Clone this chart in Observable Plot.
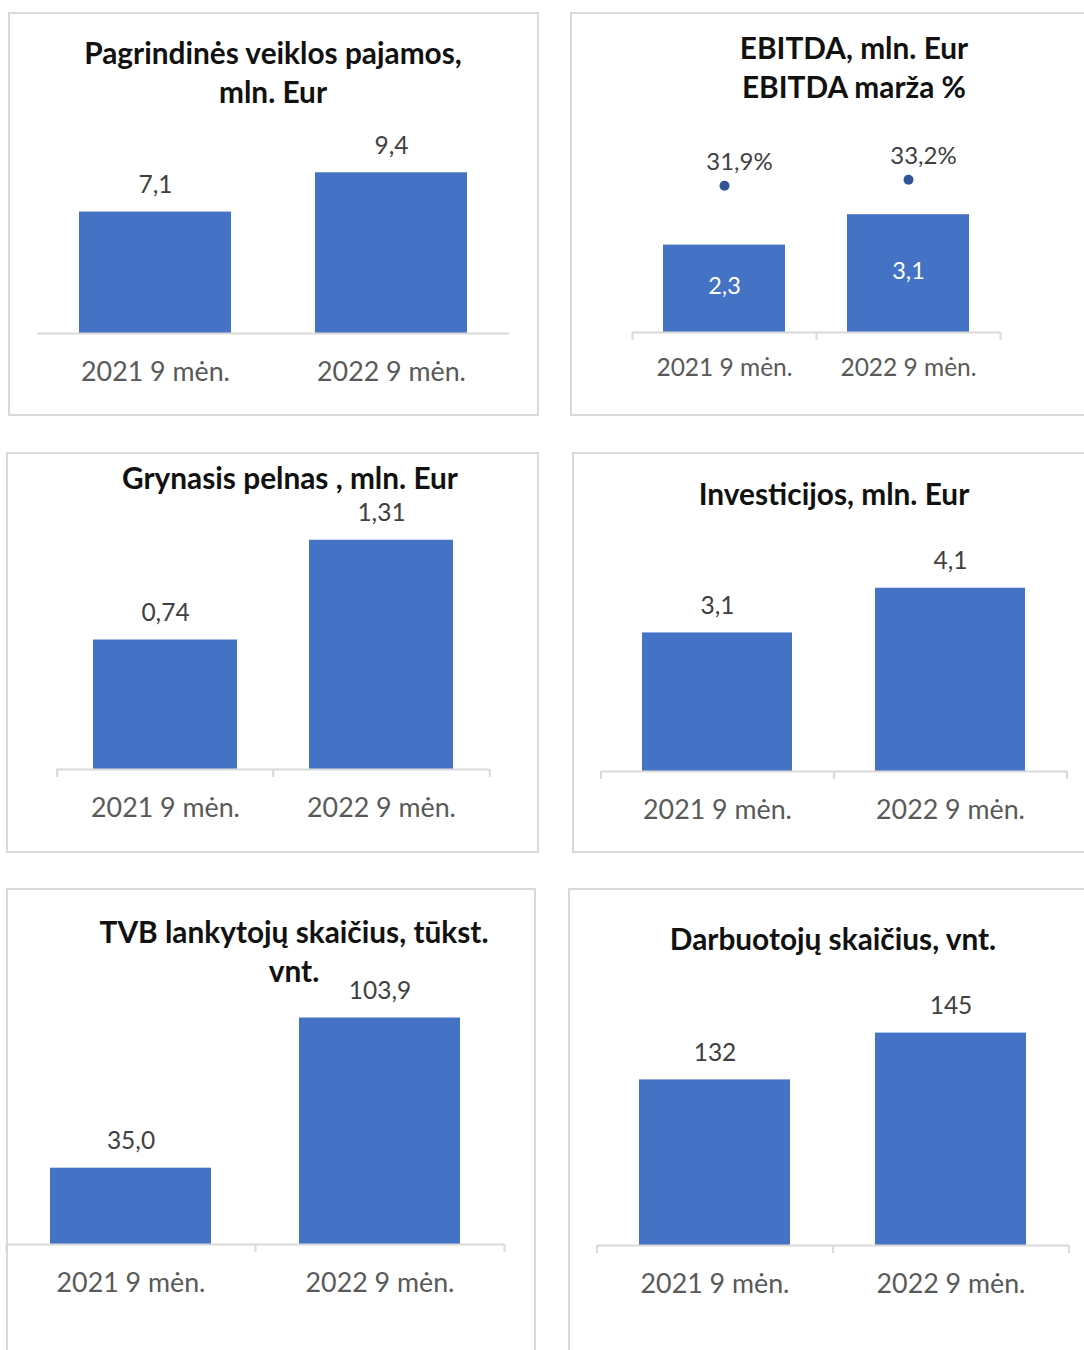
<!DOCTYPE html>
<html>
<head>
<meta charset="utf-8">
<script src="https://cdn.jsdelivr.net/npm/d3@7"></script>
<script src="https://cdn.jsdelivr.net/npm/@observablehq/plot@0.6"></script>
<style>
  html, body { margin: 0; padding: 0; background: #fff; }
  #root { position: relative; width: 1084px; height: 1350px; overflow: hidden; background: #fff; font-family: Lato, "Open Sans", sans-serif; }
  .box { position: absolute; box-sizing: border-box; border: 2px solid #d9d9d9; background: #fff; }
  .layer { position: absolute; }
  .title { position: absolute; transform: translate(-50%, -50%); white-space: nowrap; font-family: Lato, sans-serif; font-weight: 700; font-size: 29.8px; color: #111; }
</style>
</head>
<body>
<div id="root"></div>
<script>
// ---- data ----
const categories = ["2021 9 mėn.", "2022 9 mėn."];
const revenue = [7.1, 9.4];            // Pagrindinės veiklos pajamos, mln. Eur
const ebitda = [2.3, 3.1];             // EBITDA, mln. Eur
const ebitdaMargin = [31.9, 33.2];     // EBITDA marža %
const netProfit = [0.74, 1.31];        // Grynasis pelnas, mln. Eur
const investments = [3.1, 4.1];        // Investicijos, mln. Eur
const visitors = [35.0, 103.9];        // TVB lankytojų skaičius, tūkst. vnt.
const employees = [132, 145];          // Darbuotojų skaičius, vnt.
const employeesAxisMin = 86;           // value axis minimum of the employees chart

// ---- styles ----
const BAR = "#4472C4";
const DOT = "#2F5597";
const AXIS = "#d9d9d9";
const VALUE_COLOR = "#404040";
const CAT_COLOR = "#595959";

const fmt = d => v => v.toFixed(d).replace(".", ",");
const root = document.getElementById("root");

function addTitle(text, cx, cy) {
  const t = document.createElement("div");
  t.className = "title";
  t.textContent = text;
  t.style.left = cx + "px";
  t.style.top = cy + "px";
  root.appendChild(t);
}

function layer(svg, box) {
  svg.classList.add("layer");
  svg.style.left = box.l + "px";
  svg.style.top = box.t + "px";
  root.appendChild(svg);
}

function panel(cfg) {
  const {box, axis, k, yMin = 0, pad, ticks, values, format, titles,
         catSize = 26.8, catPad = 28, valSize = 24.5, inside = false} = cfg;
  const b = document.createElement("div");
  b.className = "box";
  Object.assign(b.style, {left: box.l + "px", top: box.t + "px", width: box.w + "px", height: box.h + "px"});
  root.appendChild(b);

  const data = categories.map((c, i) => ({cat: c, v: values[i]}));
  const mL = axis.x0 - box.l, mR = box.l + box.w - axis.x1, mB = box.t + box.h - axis.y;
  const yMax = yMin + (axis.y - box.t) / k;
  const step = (axis.x1 - axis.x0) / categories.length;
  const marks = [
    Plot.barY(data, {x: "cat", y1: yMin, y2: "v", fill: BAR}),
    Plot.ruleY([yMin], {stroke: AXIS, strokeWidth: 2})
  ];
  if (ticks) {
    marks.push(Plot.ruleX(categories, {x: d => d, dx: -step / 2, y1: yMin, y2: yMin, insetBottom: -8, stroke: AXIS, strokeWidth: 2}));
    marks.push(Plot.ruleX(categories.slice(-1), {x: d => d, dx: step / 2, y1: yMin, y2: yMin, insetBottom: -8, stroke: AXIS, strokeWidth: 2}));
  }
  if (inside) {
    marks.push(Plot.text(data, {x: "cat", y: d => d.v / 2, text: d => format(d.v), dy: -2, fill: "#fff", fontSize: valSize}));
  } else {
    marks.push(Plot.text(data, {x: "cat", y: "v", text: d => format(d.v), dy: -27, fill: VALUE_COLOR, fontSize: valSize}));
  }
  const svg = Plot.plot({
    width: box.w, height: box.h,
    marginLeft: mL, marginRight: mR, marginTop: 0, marginBottom: mB,
    style: {background: "transparent", fontFamily: "Lato, sans-serif", fontSize: catSize + "px", color: CAT_COLOR, overflow: "visible"},
    x: {domain: categories, paddingInner: pad, paddingOuter: pad / 2, tickSize: 0, tickPadding: catPad, label: null},
    y: {domain: [yMin, yMax], axis: null},
    marks
  });
  layer(svg, box);
  titles.forEach(t => addTitle(t.text, t.cx, t.cy));
  return {mL, mR, mB, pad};
}

// Panel 1
panel({
  box: {l: 8, t: 12, w: 531, h: 404}, axis: {x0: 37, x1: 509, y: 333},
  k: 17.1, pad: 0.356, ticks: false, values: revenue, format: fmt(1),
  titles: [{text: "Pagrindinės veiklos pajamos,", cx: 273, cy: 52}, {text: "mln. Eur", cx: 273, cy: 91}]
});

// Panel 2 (EBITDA + margin)
const p2box = {l: 570, t: 12, w: 530, h: 404};
const p2axis = {x0: 632, x1: 1000, y: 332};
const p2 = panel({
  box: p2box, axis: p2axis,
  k: 38, pad: 0.337, ticks: true, values: ebitda, format: fmt(1), inside: true,
  catSize: 24.5, catPad: 26, valSize: 23.5,
  titles: [{text: "EBITDA, mln. Eur", cx: 854, cy: 47}, {text: "EBITDA marža %", cx: 854, cy: 86}]
});
{
  const mdata = categories.map((c, i) => ({cat: c, v: ebitdaMargin[i]}));
  const k2 = 4.6;
  const svg = Plot.plot({
    width: p2box.w, height: p2box.h,
    marginLeft: p2.mL, marginRight: p2.mR, marginTop: 0, marginBottom: p2.mB,
    style: {background: "transparent", fontFamily: "Lato, sans-serif", overflow: "visible"},
    x: {domain: categories, paddingInner: p2.pad, paddingOuter: p2.pad / 2, axis: null},
    y: {domain: [0, (p2axis.y - p2box.t) / k2], axis: null},
    marks: [
      Plot.dot(mdata, {x: "cat", y: "v", r: 5, fill: DOT, stroke: "none"}),
      Plot.text(mdata, {x: "cat", y: "v", text: d => fmt(1)(d.v) + "%", dx: 15, dy: -23, fill: VALUE_COLOR, fontSize: 24})
    ]
  });
  svg.style.pointerEvents = "none";
  layer(svg, p2box);
}

// Panel 3
panel({
  box: {l: 6, t: 452, w: 533, h: 401}, axis: {x0: 56, x1: 489, y: 769},
  k: 175, pad: 0.335, ticks: true, values: netProfit, format: fmt(2),
  titles: [{text: "Grynasis pelnas , mln. Eur", cx: 290, cy: 477}]
});

// Panel 4
panel({
  box: {l: 572, t: 452, w: 530, h: 401}, axis: {x0: 601, x1: 1067, y: 771},
  k: 44.7, pad: 0.356, ticks: true, values: investments, format: fmt(1),
  titles: [{text: "Investicijos, mln. Eur", cx: 834, cy: 493}]
});

// Panel 5
panel({
  box: {l: 6, t: 888, w: 530, h: 480}, axis: {x0: 6, x1: 504, y: 1244},
  k: 2.18, pad: 0.353, ticks: true, values: visitors, format: fmt(1),
  titles: [{text: "TVB lankytojų skaičius, tūkst.", cx: 294, cy: 931}, {text: "vnt.", cx: 294, cy: 970}]
});

// Panel 6
panel({
  box: {l: 568, t: 888, w: 530, h: 480}, axis: {x0: 597, x1: 1069, y: 1245},
  k: 3.6, yMin: employeesAxisMin, pad: 0.36, ticks: true, values: employees, format: fmt(0),
  titles: [{text: "Darbuotojų skaičius, vnt.", cx: 833, cy: 938}]
});
</script>
</body>
</html>
